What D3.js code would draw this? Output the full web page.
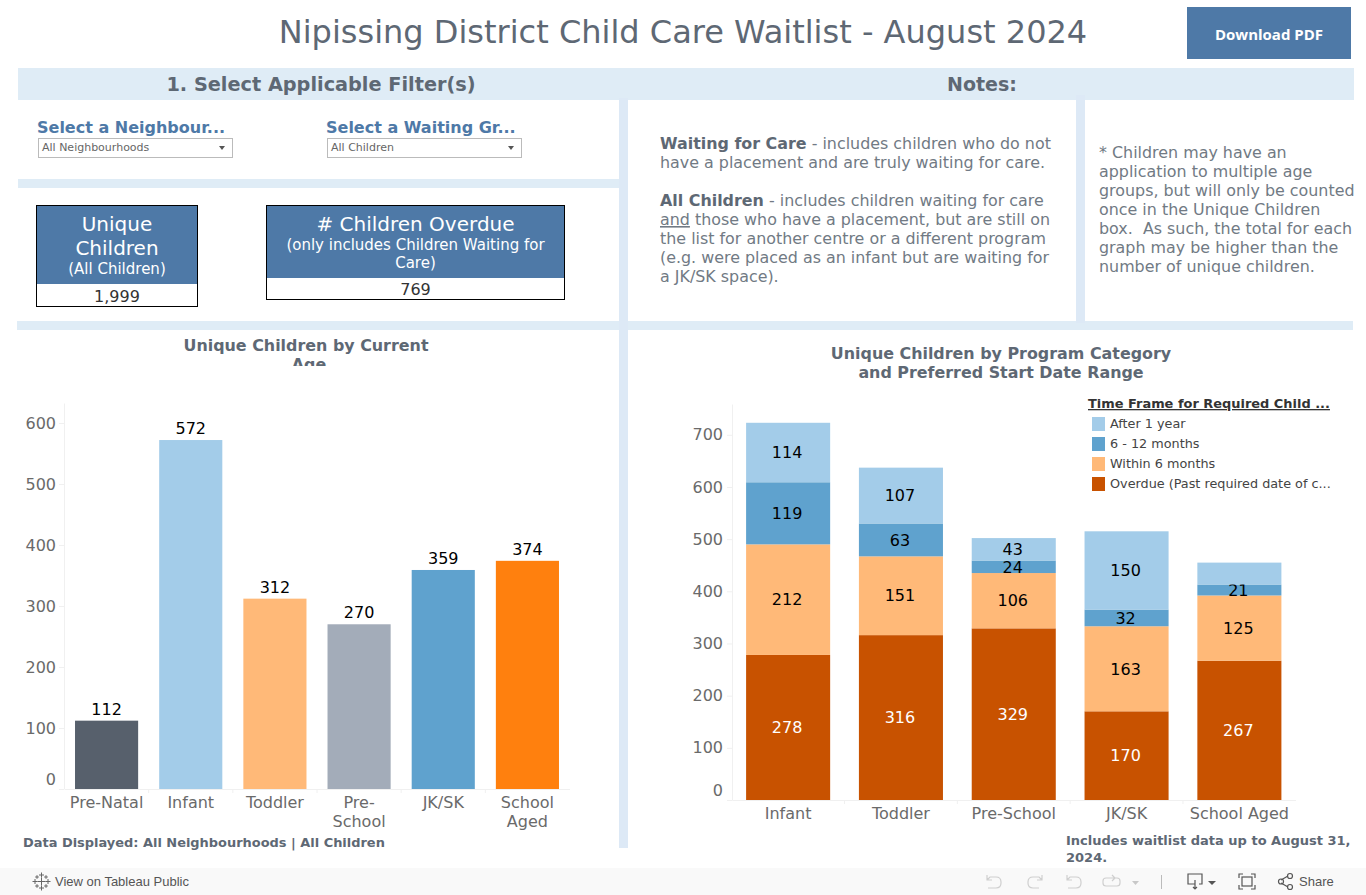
<!DOCTYPE html>
<html>
<head>
<meta charset="utf-8">
<script src="https://cdn.jsdelivr.net/npm/d3@7/dist/d3.min.js"></script>
<style>
  html, body { margin: 0; padding: 0; background: #fff; overflow: hidden; }
  text { font-family: "DejaVu Sans", sans-serif; }
  .axis path, .axis line { stroke: #f0f0f0; }
  .axis text { font-family: "DejaVu Sans", sans-serif; font-size: 16px; fill: #6a6a6a; }
</style>
</head>
<body>
<div id="chart-area"></div>
<script>
// left chart
const ageCategories = ['Pre-Natal', 'Infant', 'Toddler', 'Pre-School', 'JK/SK', 'School Aged'];
const ageValues = [112, 572, 312, 270, 359, 374];
const ageColors = ['#57606c', '#a3cce9', '#ffb978', '#a3acb9', '#5fa2ce', '#ff800e'];
const ageTicks = [0, 100, 200, 300, 400, 500, 600];

// right chart
const programCategories = ['Infant', 'Toddler', 'Pre-School', 'JK/SK', 'School Aged'];
const overdue = [278, 316, 329, 170, 267];
const within6 = [212, 151, 106, 163, 125];
const months6to12 = [119, 63, 24, 32, 21];
const after1Year = [114, 107, 43, 150, 42]; // last one has no label in the original
const programTicks = [0, 100, 200, 300, 400, 500, 600, 700];
const timeFrames = ['Overdue', 'Within 6 months', '6 - 12 months', 'After 1 year'];
const timeFrameColors = ['#c85200', '#ffb978', '#5fa2ce', '#a3cce9'];
const legendLabels = ['After 1 year', '6 - 12 months', 'Within 6 months', 'Overdue (Past required date of c...'];
const legendColors = ['#a3cce9', '#5fa2ce', '#ffb978', '#c85200'];

const band = '#dfecf6', bandSide = '#dde9f6', blue = '#4e79a7', slate = '#5e6874', noteGrey = '#717a84';

const svg = d3.select('#chart-area').append('svg')
  .attr('id', 'chart')
  .attr('width', 1366)
  .attr('height', 895)
  .style('display', 'block');

function label(text, x, y, size, color, opts) {
  opts = opts || {};
  return (opts.parent || svg).append('text')
    .attr('x', x).attr('y', y)
    .attr('text-anchor', opts.anchor || 'start')
    .style('font-size', size + 'px')
    .style('font-weight', opts.bold ? 'bold' : 'normal')
    .style('font-family', opts.font || null)
    .style('text-decoration', opts.underline ? 'underline' : null)
    .style('fill', color)
    .text(text);
}

function box(x, y, w, h, fill) {
  return svg.append('rect').attr('x', x).attr('y', y).attr('width', w).attr('height', h).attr('fill', fill);
}

// dashboard frame
box(18, 68, 1336, 32, band);
box(18, 179, 601, 9, band);
box(17, 321, 1336, 9, band);
box(619, 98, 9, 750, bandSide);
box(1076, 95, 9, 228, bandSide);

label('Nipissing District Child Care Waitlist - August 2024', 683, 43, 32, slate, { anchor: 'middle' });
box(1187, 7, 164, 52, blue);
label('Download PDF', 1269, 40, 15, '#fff', { anchor: 'middle', bold: true, font: '"Open Sans"' });

label('1. Select Applicable Filter(s)', 321, 91, 19.3, slate, { anchor: 'middle', bold: true });
label('Notes:', 982, 91, 19, slate, { anchor: 'middle', bold: true });

// filters
[[37, 'Select a Neighbour...', 'All Neighbourhoods'], [326, 'Select a Waiting Gr...', 'All Children']].forEach(([x, title, value]) => {
  label(title, x, 133, 16, blue, { bold: true });
  svg.append('rect').attr('x', x + 1.5).attr('y', 138.5).attr('width', 194).attr('height', 19)
    .attr('fill', '#fff').attr('stroke', '#bbb');
  label(value, x + 5, 151, 11, '#666');
  svg.append('path').attr('d', `M${x + 182},146 h6 l-3,4 z`).attr('fill', '#555');
});

// KPI boxes
function kpi(x, y, w, h, headH, value, valueY, lines) {
  box(x, y, w, headH, blue);
  svg.append('rect').attr('x', x + 0.5).attr('y', y + 0.5).attr('width', w - 1).attr('height', h - 1)
    .attr('fill', 'none').attr('stroke', '#000');
  lines.forEach(l => label(l[0], x + w / 2, l[1], l[2], '#fff', { anchor: 'middle' }));
  label(value, x + w / 2, valueY, 16, '#333', { anchor: 'middle' });
}
kpi(36, 205, 162, 102, 79, '1,999', 302, [['Unique', 231, 20], ['Children', 255, 20], ['(All Children)', 274, 15]]);
kpi(266, 205, 299, 95, 73, '769', 295, [['# Children Overdue', 231, 20], ['(only includes Children Waiting for', 250, 15], ['Care)', 268, 15]]);

// notes
const note1 = svg.append('g');
function noteLine(parent, x, y, parts) {
  const t = parent.append('text').attr('x', x).attr('y', y).style('font-size', '15.9px').style('fill', noteGrey);
  parts.forEach(p => {
    t.append('tspan')
      .style('font-weight', p.bold ? 'bold' : 'normal')
      .style('fill', p.bold ? slate : noteGrey)
      .style('text-decoration', p.underline ? 'underline' : null)
      .attr('xml:space', 'preserve')
      .text(p.text);
  });
}
noteLine(note1, 660, 149, [{ text: 'Waiting for Care', bold: true }, { text: ' - includes children who do not' }]);
noteLine(note1, 660, 168, [{ text: 'have a placement and are truly waiting for care.' }]);
noteLine(note1, 660, 206, [{ text: 'All Children', bold: true }, { text: ' - includes children waiting for care' }]);
noteLine(note1, 660, 225, [{ text: 'and', underline: true }, { text: ' those who have a placement, but are still on' }]);
noteLine(note1, 660, 244, [{ text: 'the list for another centre or a different program' }]);
noteLine(note1, 660, 263, [{ text: '(e.g. were placed as an infant but are waiting for' }]);
noteLine(note1, 660, 282, [{ text: 'a JK/SK space).' }]);

['* Children may have an', 'application to multiple age', 'groups, but will only be counted', 'once in the Unique Children',
  'box.  As such, the total for each', 'graph may be higher than the', 'number of unique children.'].forEach((l, i) => {
  noteLine(note1, 1099, 158 + i * 19, [{ text: l }]);
});

// left chart
svg.append('clipPath').attr('id', 'age-title-clip').append('rect').attr('x', 18).attr('y', 332).attr('width', 600).attr('height', 34);
const ageTitle = svg.append('g').attr('clip-path', 'url(#age-title-clip)');
label('Unique Children by Current', 306, 351, 15.9, slate, { anchor: 'middle', bold: true, parent: ageTitle });
label('Age', 309, 370, 15.9, slate, { anchor: 'middle', bold: true, parent: ageTitle });

const xAge = d3.scaleBand().domain(ageCategories).range([64.5, 569.5]).paddingInner(0.25).paddingOuter(0.125);
const yAge = d3.scaleLinear().domain([0, 632.7]).range([789, 403]);

drawAxes(xAge, yAge, ageTicks, 3);

svg.append('g').selectAll('rect').data(ageCategories).join('rect')
  .attr('x', d => xAge(d))
  .attr('width', xAge.bandwidth())
  .attr('y', (d, i) => yAge(ageValues[i]))
  .attr('height', (d, i) => yAge(0) - yAge(ageValues[i]))
  .attr('fill', (d, i) => ageColors[i]);

svg.append('g').selectAll('text').data(ageCategories).join('text')
  .attr('x', d => xAge(d) + xAge.bandwidth() / 2)
  .attr('y', (d, i) => yAge(ageValues[i]) - 6)
  .attr('text-anchor', 'middle')
  .style('font-size', '16px')
  .style('fill', '#000')
  .text((d, i) => ageValues[i]);

label('Data Displayed: All Neighbourhoods | All Children', 23, 847, 12.95, slate, { bold: true });

// right chart
label('Unique Children by Program Category', 1001, 359, 15.9, slate, { anchor: 'middle', bold: true });
label('and Preferred Start Date Range', 1001, 378, 15.9, slate, { anchor: 'middle', bold: true });

const xProgram = d3.scaleBand().domain(programCategories).range([732, 1295.5]).paddingInner(0.255).paddingOuter(0.125);
const yProgram = d3.scaleLinear().domain([0, 759]).range([800, 404]);

drawAxes(xProgram, yProgram, programTicks, 4);

const rows = programCategories.map((c, i) => ({
  category: c,
  'Overdue': overdue[i],
  'Within 6 months': within6[i],
  '6 - 12 months': months6to12[i],
  'After 1 year': after1Year[i]
}));
const stacked = d3.stack().keys(timeFrames)(rows);

const layers = svg.append('g').selectAll('g').data(stacked).join('g');
layers.selectAll('rect').data(d => d).join('rect')
  .attr('x', d => xProgram(d.data.category))
  .attr('width', xProgram.bandwidth())
  .attr('y', d => yProgram(d[1]))
  .attr('height', d => yProgram(d[0]) - yProgram(d[1]))
  .attr('fill', function () { return timeFrameColors[timeFrames.indexOf(d3.select(this.parentNode).datum().key)]; });

layers.each(function (layer) {
  d3.select(this).selectAll('text')
    .data(layer.filter(d => !(layer.key === 'After 1 year' && d.data.category === 'School Aged')))
    .join('text')
    .attr('x', d => xProgram(d.data.category) + xProgram.bandwidth() / 2 - 1)
    .attr('y', d => (yProgram(d[0]) + yProgram(d[1])) / 2)
    .attr('dy', '0.36em')
    .attr('text-anchor', 'middle')
    .style('font-size', '16px')
    .style('fill', layer.key === 'Overdue' ? '#fff' : '#000')
    .text(d => d[1] - d[0]);
});

// legend
label('Time Frame for Required Child ...', 1088, 408, 12.95, '#333', { bold: true, underline: true });
const legendY = d3.scalePoint().domain(legendLabels).range([424, 484]);
const legendItem = svg.append('g').selectAll('g').data(legendLabels).join('g')
  .attr('transform', d => `translate(1092, ${legendY(d)})`);
legendItem.append('rect').attr('y', -7).attr('width', 13).attr('height', 14).attr('fill', (d, i) => legendColors[i]);
legendItem.append('text').attr('x', 18).attr('y', 3.5).style('font-size', '12.8px').style('fill', '#444').text(d => d);

label('Includes waitlist data up to August 31,', 1066, 845, 13, slate, { bold: true });
label('2024.', 1066, 862, 13, slate, { bold: true });

// bottom toolbar
box(0, 868, 1366, 27, '#f9f9f9');
const logo = svg.append('g').attr('transform', 'translate(41.5, 881.5)').attr('stroke', '#666').attr('stroke-width', 1).attr('fill', 'none');
[[0, 0, 4], [0, -6.5, 2.5], [0, 6.5, 2.5], [-6.5, 0, 2.5], [6.5, 0, 2.5], [-4.5, -4.5, 1.8], [4.5, -4.5, 1.8], [-4.5, 4.5, 1.8], [4.5, 4.5, 1.8]].forEach(([x, y, r]) => {
  logo.append('path').attr('d', `M${x - r},${y} h${2 * r} M${x},${y - r} v${2 * r}`);
});
label('View on Tableau Public', 55, 886, 13, '#555', { font: '"Liberation Sans"' });

const icons = svg.append('g').attr('fill', 'none').attr('stroke', '#cfcfcf').attr('stroke-width', 1.2);
icons.append('path').attr('d', 'M987,875 v5 h5 M987,880 l3,-3 h6 q5,0 5,5 v1 q0,5 -5,5 h-8');
icons.append('path').attr('d', 'M1042,875 v5 h-5 M1042,880 l-3,-3 h-6 q-5,0 -5,5 v1 q0,5 5,5 h6');
icons.append('path').attr('d', 'M1067,875 v5 h5 M1067,880 l3,-3 h6 q5,0 5,5 v1 q0,5 -5,5 h-8');
icons.append('path').attr('d', 'M1117,878 h-11 q-3,0 -3,3 v2 q0,3 3,3 h11 q3,0 3,-3 v-2 q0,-3 -3,-3 M1112,875 l3,3 l-3,3');
svg.append('path').attr('d', 'M1132,881 h7 l-3.5,4 z').attr('fill', '#c8c8c8');
box(1161, 875, 1, 14, '#bbb');

const darkIcons = svg.append('g').attr('fill', 'none').attr('stroke', '#555').attr('stroke-width', 1.2);
darkIcons.append('path').attr('d', 'M1195,884 h-7 v-10 h14 v10 h-3 M1195,880 v9 M1193,887 l2,2 l2,-2');
svg.append('path').attr('d', 'M1208,881 h8 l-4,4 z').attr('fill', '#555');
darkIcons.append('path').attr('d', 'M1239,878 v-4 h4 M1251,874 h4 v4 M1255,885 v4 h-4 M1243,889 h-4 v-4');
darkIcons.append('rect').attr('x', 1242).attr('y', 877).attr('width', 10).attr('height', 9);
darkIcons.append('path').attr('d', 'M1281,880 l7,-4 M1281,883 l7,4');
darkIcons.append('circle').attr('cx', 1281).attr('cy', 881.5).attr('r', 2.5);
darkIcons.append('circle').attr('cx', 1290).attr('cy', 876).attr('r', 2.5);
darkIcons.append('circle').attr('cx', 1290).attr('cy', 887).attr('r', 2.5);
label('Share', 1299, 886, 13, '#555', { font: '"Liberation Sans"' });

function drawAxes(x, y, ticks, padding) {
  const yAxis = svg.append('g').attr('class', 'axis')
    .attr('transform', `translate(${Math.floor(x.range()[0])},0)`)
    .call(d3.axisLeft(y).tickValues(ticks).tickSize(5).tickPadding(padding).tickSizeOuter(0));
  // the zero label sits above the baseline, as in Tableau
  yAxis.selectAll('.tick text').filter(d => d === 0).attr('dy', '-0.3em');

  const xAxis = svg.append('g').attr('class', 'axis')
    .attr('transform', `translate(0,${y.range()[0]})`)
    .call(d3.axisBottom(x).tickSize(0).tickPadding(5).tickSizeOuter(0));
  xAxis.selectAll('.tick text').attr('dy', '0.85em').call(wrap, x.step());

  // separators between the categories
  svg.append('g').selectAll('line').data(x.domain().slice(1)).join('line')
    .attr('x1', d => x(d) - x.step() * x.paddingInner() / 2)
    .attr('x2', d => x(d) - x.step() * x.paddingInner() / 2)
    .attr('y1', y.range()[0])
    .attr('y2', y.range()[0] + 4)
    .attr('stroke', '#f0f0f0');
}

// wrap long axis labels on a space or after a hyphen
function wrap(selection, width) {
  selection.each(function () {
    const text = d3.select(this);
    const full = text.text();
    if (this.getComputedTextLength() <= width) return;
    const parts = full.includes('-') ? [full.slice(0, full.indexOf('-') + 1), full.slice(full.indexOf('-') + 1)] : full.split(' ');
    const dy = text.attr('dy');
    text.text(null);
    parts.forEach((p, i) => {
      text.append('tspan').attr('x', 0).attr('dy', i === 0 ? dy : '1.2em').text(p);
    });
  });
}
</script>
</body>
</html>
